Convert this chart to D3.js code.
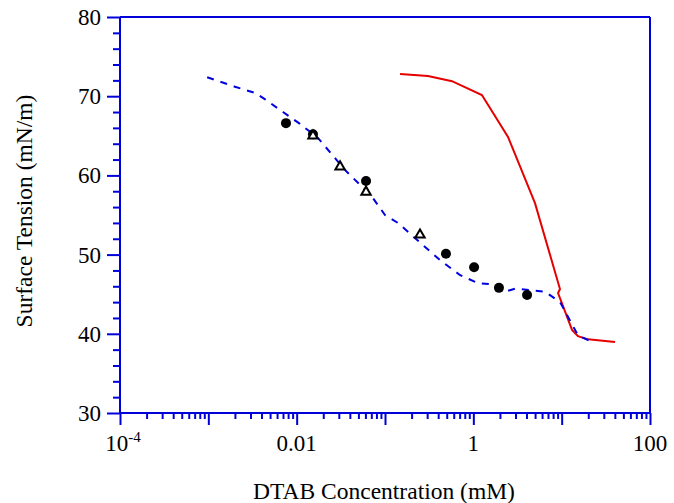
<!DOCTYPE html>
<html>
<head>
<meta charset="utf-8">
<script src="https://cdn.jsdelivr.net/npm/d3@7"></script>
<style>
  body { margin: 0; background: #fff; }
</style>
</head>
<body>
<svg id="chart" width="674" height="503"></svg>
<script>
// dashed blue line (model)
var blueConc = [0.00097, 0.0020, 0.0034, 0.0044, 0.0070, 0.0109, 0.0175, 0.0352, 0.0713, 0.100, 0.140, 0.42, 0.71, 1.13, 1.76, 2.40, 2.97, 6.5, 9.6, 15.3, 20.9];
var blueTension = [72.4, 71.2, 70.4, 69.6, 68.0, 66.5, 64.7, 60.7, 57.3, 55.0, 54.0, 49.3, 47.4, 46.4, 46.2, 45.4, 45.7, 45.3, 44.0, 39.8, 39.1];

// solid red line
var redConc = [0.148, 0.307, 0.574, 1.25, 2.47, 4.99, 9.57, 9.1, 13.1, 15.3, 19.9, 40.2];
var redTension = [72.8, 72.55, 71.9, 70.15, 64.85, 56.5, 45.65, 45.15, 40.5, 39.7, 39.3, 38.97];

// filled circles
var circleConc = [0.00757, 0.0153, 0.061, 0.49, 1.02, 1.95, 4.06];
var circleTension = [66.6, 65.2, 59.3, 50.1, 48.4, 45.8, 44.9];

// open triangles
var triConc = [0.0153, 0.031, 0.061, 0.249];
var triTension = [65.0, 61.1, 57.9, 52.5];

var yTicks = [30, 40, 50, 60, 70, 80];
var xLabelVals = [1e-4, 0.01, 1, 100];

var svg = d3.select('#chart');
var axisColor = '#0000d8';
var serif = '"Liberation Serif", "Times New Roman", Times, "DejaVu Serif", serif';

var x = d3.scaleLog().domain([1e-4, 100]).range([120, 650]);
var y = d3.scaleLinear().domain([30, 80]).range([413, 17]);

// frame top + right
svg.append('line').attr('x1', x(1e-4)).attr('x2', x(100)).attr('y1', y(80)).attr('y2', y(80))
   .attr('stroke', axisColor).attr('stroke-width', 2);
svg.append('line').attr('x1', x(100)).attr('x2', x(100)).attr('y1', y(80)).attr('y2', y(30))
   .attr('stroke', axisColor).attr('stroke-width', 2);

// x axis: decade ticks + minor ticks
var decades = [1e-4, 1e-3, 1e-2, 1e-1, 1, 10, 100];
var minors = [];
for (var d = 0; d < decades.length - 1; d++) {
    for (var m = 2; m <= 9; m++) minors.push(decades[d] * m);
}

var xMajor = d3.axisBottom(x).tickValues(decades).tickSize(12).tickFormat('');
var xMinor = d3.axisBottom(x).tickValues(minors).tickSize(6).tickFormat('');
var gx = svg.append('g').attr('transform', 'translate(0,' + y(30) + ')').call(xMajor);
var gx2 = svg.append('g').attr('transform', 'translate(0,' + y(30) + ')').call(xMinor);

// y axis
var yMinors = [];
for (var v = 32; v < 80; v += 2) { if (v % 10 != 0) yMinors.push(v); }
var yMajor = d3.axisLeft(y).tickValues(yTicks).tickSize(13).tickFormat('');
var yMinor = d3.axisLeft(y).tickValues(yMinors).tickSize(7).tickFormat('');
var gy = svg.append('g').attr('transform', 'translate(' + x(1e-4) + ',0)').call(yMajor);
var gy2 = svg.append('g').attr('transform', 'translate(' + x(1e-4) + ',0)').call(yMinor);

[gx, gx2, gy, gy2].forEach(function (g) {
    g.selectAll('path').attr('stroke', axisColor).attr('stroke-width', 2);
    g.selectAll('line').attr('stroke', axisColor).attr('stroke-width', 2);
});
gx2.select('path').remove();
gy2.select('path').remove();
gx.select('path').attr('d', 'M' + x(1e-4) + ',0H' + x(100));
gy.select('path').attr('d', 'M0,' + y(30) + 'V' + y(80));

// y tick labels
svg.selectAll('.ylab').data(yTicks).enter().append('text')
   .attr('class', 'ylab')
   .attr('x', 101).attr('y', function (d) { return y(d) + 8; })
   .attr('text-anchor', 'end').attr('font-size', 23).attr('font-family', serif)
   .text(function (d) { return d; });

// x tick labels
xLabelVals.forEach(function (v) {
    var t = svg.append('text').attr('x', x(v)).attr('y', 451)
        .attr('text-anchor', 'middle').attr('font-size', 23).attr('font-family', serif);
    if (v == 1e-4) {
        t.attr('x', x(v) + 3);
        t.append('tspan').text('10');
        t.append('tspan').attr('dy', -9).attr('font-size', 15).text('-4');
    } else {
        t.text(d3.format('~g')(v));
    }
});

// axis titles
svg.append('text').attr('x', 384).attr('y', 499).attr('text-anchor', 'middle')
   .attr('font-size', 23.5).attr('font-family', serif).text('DTAB Concentration (mM)');
svg.append('text').attr('transform', 'translate(32,211) rotate(-90)')
   .attr('text-anchor', 'middle').attr('font-size', 23.5).attr('font-family', serif)
   .text('Surface Tension (mN/m)');

// lines
var line = d3.line().x(function (d) { return x(d[0]); }).y(function (d) { return y(d[1]); });

svg.append('path')
   .datum(redConc.map(function (c, i) { return [c, redTension[i]]; }))
   .attr('d', line).attr('fill', 'none').attr('stroke', '#e60000').attr('stroke-width', 2);

svg.append('path')
   .datum(blueConc.map(function (c, i) { return [c, blueTension[i]]; }))
   .attr('d', line).attr('fill', 'none').attr('stroke', '#0000e0').attr('stroke-width', 2)
   .attr('stroke-dasharray', '7,7');

// markers
svg.selectAll('.dot').data(circleConc).enter().append('circle')
   .attr('class', 'dot')
   .attr('cx', function (d) { return x(d); })
   .attr('cy', function (d, i) { return y(circleTension[i]); })
   .attr('r', 5).attr('fill', '#000');

var tri = d3.symbol().type(d3.symbolTriangle).size(38);
svg.selectAll('.tri').data(triConc).enter().append('path')
   .attr('class', 'tri')
   .attr('d', tri)
   .attr('transform', function (d, i) { return 'translate(' + x(d) + ',' + y(triTension[i]) + ')'; })
   .attr('fill', '#fff').attr('stroke', '#000').attr('stroke-width', 2);
</script>
</body>
</html>
